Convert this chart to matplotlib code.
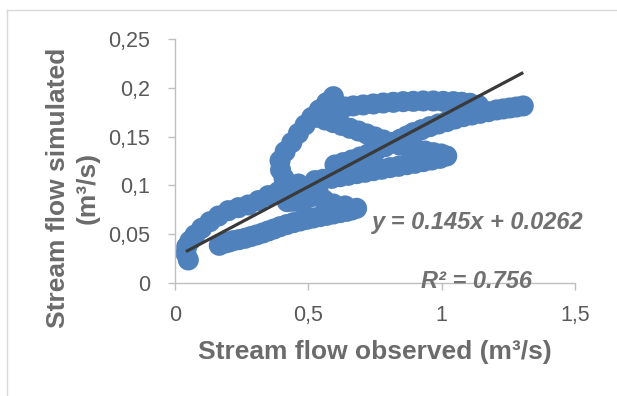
import matplotlib.pyplot as plt
from matplotlib.lines import Line2D

# observed (x) and simulated (y) stream flow, m3/s
observed = [
    # low flows, rising branch
    0.050, 0.041, 0.044, 0.056, 0.075, 0.100, 0.131, 0.163, 0.200, 0.238,
    0.275, 0.313, 0.350, 0.388, 0.425, 0.463,
    0.525, 0.556, 0.588, 0.619, 0.650, 0.681, 0.713, 0.744, 0.775, 0.806,
    0.838, 0.869, 0.900, 0.931, 0.963, 0.994, 1.019,
    # back up towards the peak
    0.998, 0.969, 0.938, 0.906, 0.875, 0.844, 0.813, 0.781, 0.750, 0.719,
    0.688, 0.656, 0.625, 0.594, 0.563, 0.531,
    # upper arc
    0.544, 0.575, 0.606, 0.638, 0.669, 0.706, 0.744, 0.781, 0.819, 0.856,
    0.894, 0.931, 0.969, 1.006, 1.044, 1.075, 1.106, 1.138,
    # second rise to the largest observed flows
    0.600, 0.631, 0.663, 0.694, 0.725, 0.756, 0.788, 0.816, 0.844, 0.869,
    0.894, 0.925, 0.956, 0.988, 1.019, 1.050, 1.081, 1.113, 1.144, 1.175,
    1.206, 1.231, 1.256, 1.281, 1.306,
    # recession
    0.594, 0.569, 0.541, 0.513, 0.488, 0.463, 0.438, 0.413, 0.394, 0.396,
    0.409, 0.419, 0.416, 0.421,
    0.444, 0.469, 0.490, 0.513, 0.541, 0.559, 0.594, 0.638, 0.681,
    0.663, 0.644, 0.619, 0.594, 0.569, 0.544, 0.519, 0.494, 0.469, 0.444,
    0.419, 0.394, 0.371, 0.350, 0.329, 0.306, 0.284, 0.263, 0.240, 0.219,
    0.203, 0.188, 0.166,
]
simulated = [
    0.0236, 0.0304, 0.0372, 0.0430, 0.0492, 0.0560, 0.0628, 0.0686, 0.0741, 0.0772,
    0.0799, 0.0844, 0.0895, 0.0936, 0.0980, 0.1014,
    0.1049, 0.1062, 0.1072, 0.1089, 0.1103, 0.1120, 0.1134, 0.1151, 0.1165, 0.1182,
    0.1195, 0.1212, 0.1226, 0.1243, 0.1260, 0.1277, 0.1301,
    0.1322, 0.1335, 0.1352, 0.1370, 0.1390, 0.1411, 0.1438, 0.1465, 0.1496, 0.1527,
    0.1557, 0.1585, 0.1615, 0.1643, 0.1670, 0.1697,
    0.1755, 0.1773, 0.1790, 0.1803, 0.1814, 0.1824, 0.1834, 0.1844, 0.1851, 0.1858,
    0.1861, 0.1865, 0.1865, 0.1861, 0.1858, 0.1851, 0.1841, 0.1820,
    0.1209, 0.1233, 0.1260, 0.1291, 0.1322, 0.1359, 0.1397, 0.1434, 0.1472, 0.1506,
    0.1540, 0.1571, 0.1602, 0.1629, 0.1653, 0.1680, 0.1704, 0.1721, 0.1738, 0.1755,
    0.1773, 0.1783, 0.1793, 0.1803, 0.1814,
    0.1909, 0.1848, 0.1773, 0.1697, 0.1619, 0.1533, 0.1438, 0.1346, 0.1253, 0.1158,
    0.1072, 0.0987, 0.0902, 0.0833,
    0.0837, 0.0844, 0.0861, 0.0885, 0.0902, 0.0850, 0.0809, 0.0789, 0.0765,
    0.0748, 0.0734, 0.0721, 0.0707, 0.0693, 0.0680, 0.0666, 0.0652, 0.0635, 0.0618,
    0.0598, 0.0577, 0.0553, 0.0533, 0.0512, 0.0492, 0.0475, 0.0458, 0.0444, 0.0434,
    0.0420, 0.0410, 0.0386,
]

# linear trendline as printed on the chart
slope = 0.145
intercept = 0.0262
equation_text = "y = 0.145x + 0.0262"
r2_text = "R² = 0.756"

x_ticks = [0, 0.5, 1, 1.5]
x_tick_labels = ["0", "0,5", "1", "1,5"]
y_ticks = [0, 0.05, 0.1, 0.15, 0.2, 0.25]
y_tick_labels = ["0", "0,05", "0,1", "0,15", "0,2", "0,25"]

blue = "#4F81BD"
grey_text = "#595959"
axis_grey = "#BFBFBF"

plt.rcParams["font.family"] = ["Liberation Sans", "DejaVu Sans"]

fig = plt.figure(figsize=(6.17, 3.96), dpi=100)
ax = fig.add_axes([0.2836, 0.2854, 0.6483, 0.6162])

ax.scatter(observed, simulated, s=230, color=blue, edgecolors="none", zorder=2)

x0, x1 = min(observed), max(observed)
ax.plot([x0, x1], [slope * x0 + intercept, slope * x1 + intercept],
        color="#3a3a3a", lw=2.3, zorder=3, solid_capstyle="butt")

ax.set_xlim(0, 1.5)
ax.set_ylim(0, 0.25)
ax.set_xticks(x_ticks)
ax.set_xticklabels(x_tick_labels)
ax.set_yticks(y_ticks)
ax.set_yticklabels(y_tick_labels)

for side in ["top", "right"]:
    ax.spines[side].set_visible(False)
for side in ["left", "bottom"]:
    ax.spines[side].set_color(axis_grey)
    ax.spines[side].set_linewidth(1)
ax.tick_params(axis="both", colors=axis_grey, length=5, width=1,
               labelcolor=grey_text, labelsize=15.5)
ax.tick_params(axis="x", pad=11)
ax.tick_params(axis="y", pad=13)

fig.text(0.775, 0.439, equation_text, ha="center", va="center", fontsize=17,
         fontweight="bold", fontstyle="italic", color="#707070", zorder=5)
fig.text(0.773, 0.288, r2_text, ha="center", va="center", fontsize=17,
         fontweight="bold", fontstyle="italic", color="#707070", zorder=5)

fig.text(0.608, 0.111, "Stream flow observed (m³/s)", ha="center", va="center",
         fontsize=19, fontweight="bold", color="#6b6b6b")
fig.text(0.1175, 0.525, "Stream flow simulated\n(m³/s)", ha="center", va="center",
         rotation=90, fontsize=19, fontweight="bold", color="#6b6b6b",
         multialignment="center", linespacing=1.3)

# light chart-area border (top and left edges visible)
fx = 7 / 617
fy = 1 - 10 / 396
fig.add_artist(Line2D([fx, fx], [0, fy], color="#D9D9D9", lw=1))
fig.add_artist(Line2D([fx, 1], [fy, fy], color="#D9D9D9", lw=1))

fig.savefig("out.png", dpi=100)
